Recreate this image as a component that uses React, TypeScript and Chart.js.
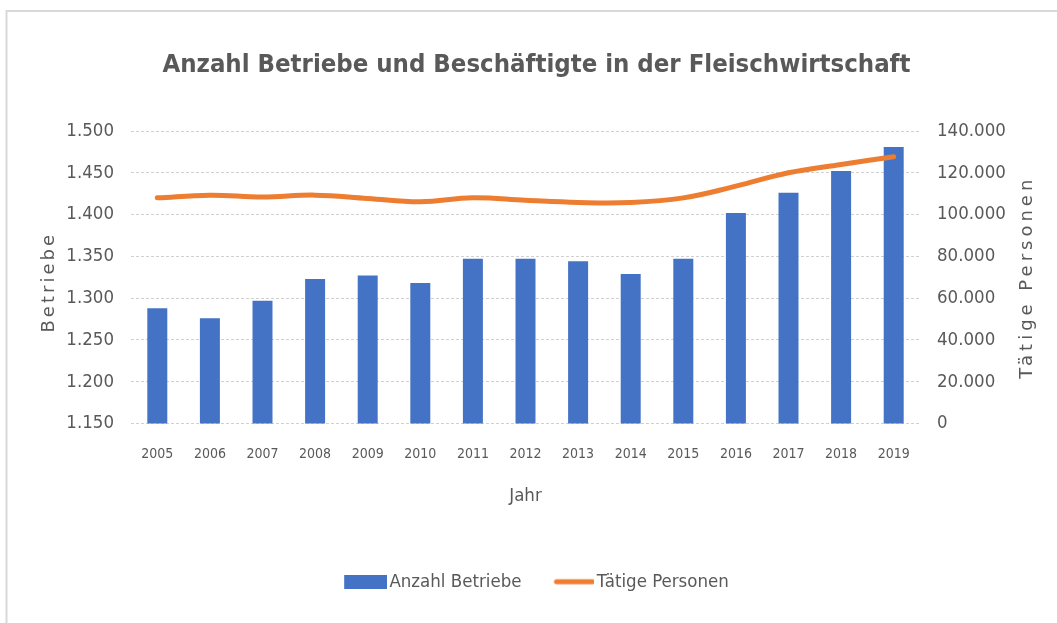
import { useEffect, useRef } from "react";
import { Chart, registerables } from "chart.js";

Chart.register(...registerables);

// ---- data ----
const years = ["2005", "2006", "2007", "2008", "2009", "2010", "2011", "2012", "2013", "2014", "2015", "2016", "2017", "2018", "2019"];
const anzahlBetriebe = [1288, 1276, 1297, 1323, 1327, 1318, 1347, 1347, 1344, 1329, 1347, 1402, 1426, 1452, 1481];
const taetigePersonen = [108000, 109300, 108400, 109300, 107700, 106100, 108000, 106800, 105800, 105800, 108000, 113600, 120000, 124000, 127700];
const leftAxisRange = [1150, 1500];
const leftAxisStep = 50;
const rightAxisRange = [0, 140000];
const rightAxisStep = 20000;

const titleText = "Anzahl Betriebe und Beschäftigte in der Fleischwirtschaft";
const xTitle = "Jahr";
const yLeftTitle = "Betriebe";
const yRightTitle = "Tätige Personen";
const seriesNames = ["Anzahl Betriebe", "Tätige Personen"];

const BLUE = "#4472C4";
const ORANGE = "#ED7D31";
const GREY = "#595959";
const GRID = "#d0d0d0";
const NARROW = "'DejaVu Sans Condensed', 'Liberation Sans Narrow', sans-serif";
const WIDE = "'DejaVu Sans', sans-serif";

function makeBarIcon() {
  const c = document.createElement("canvas");
  c.width = 50;
  c.height = 14;
  const ctx = c.getContext("2d")!;
  ctx.fillStyle = BLUE;
  ctx.fillRect(7, 0, 43, 14);
  return c;
}

function makeLineIcon() {
  const c = document.createElement("canvas");
  c.width = 50;
  c.height = 8;
  const ctx = c.getContext("2d")!;
  ctx.strokeStyle = ORANGE;
  ctx.lineWidth = 5;
  ctx.lineCap = "round";
  ctx.beginPath();
  ctx.moveTo(12, 4);
  ctx.lineTo(48, 4);
  ctx.stroke();
  return c;
}

const decorPlugin = {
  id: "decor",
  beforeDraw(chart: any) {
    const ctx = chart.ctx;
    ctx.save();
    ctx.fillStyle = "#ffffff";
    ctx.fillRect(0, 0, chart.width, chart.height);
    ctx.strokeStyle = "#d9d9d9";
    ctx.lineWidth = 2;
    ctx.beginPath();
    ctx.moveTo(6.5, chart.height);
    ctx.lineTo(6.5, 11);
    ctx.lineTo(chart.width, 11);
    ctx.stroke();
    ctx.restore();
  },
  afterDraw(chart: any) {
    const ctx = chart.ctx;
    const area = chart.chartArea;
    const cy = (area.top + area.bottom) / 2;
    ctx.save();
    ctx.fillStyle = GREY;
    ctx.font = "18px " + WIDE;
    ctx.textAlign = "center";
    ctx.textBaseline = "middle";
    // left axis title
    ctx.save();
    ctx.translate(49, cy + 5);
    ctx.rotate(-Math.PI / 2);
    (ctx as any).letterSpacing = "3px";
    ctx.fillText(yLeftTitle, 0, 0);
    ctx.restore();
    // right axis title
    ctx.save();
    ctx.translate(1027, cy);
    ctx.rotate(-Math.PI / 2);
    (ctx as any).letterSpacing = "4px";
    ctx.fillText(yRightTitle, 0, 0);
    ctx.restore();
    ctx.restore();
  },
};

export default function App() {
  const ref = useRef<HTMLCanvasElement | null>(null);

  useEffect(() => {
    document.body.style.margin = "0";
    document.body.style.overflow = "hidden";
    const canvas = ref.current;
    if (!canvas) return;
    const barIcon = makeBarIcon();
    const lineIcon = makeLineIcon();

    const chart = new Chart(canvas, {
      type: "bar",
      data: {
        labels: years,
        datasets: [
          {
            type: "line",
            label: seriesNames[1],
            data: taetigePersonen,
            yAxisID: "y2",
            borderColor: ORANGE,
            backgroundColor: ORANGE,
            borderWidth: 5,
            tension: 0.4,
            pointRadius: 0,
            borderCapStyle: "round",
            fill: false,
          } as any,
          {
            type: "bar",
            label: seriesNames[0],
            data: anzahlBetriebe,
            yAxisID: "y1",
            backgroundColor: BLUE,
            barPercentage: 0.38,
            categoryPercentage: 1,
          } as any,
        ],
      },
      plugins: [decorPlugin],
      options: {
        responsive: false,
        animation: false,
        devicePixelRatio: 1,
        layout: { padding: { left: 16, right: 0, top: 0, bottom: 22 } },
        plugins: {
          tooltip: { enabled: false },
          title: {
            display: true,
            text: titleText,
            color: GREY,
            font: { family: NARROW, size: 25.5, weight: "bold", lineHeight: 1.2 },
            padding: { top: 50, bottom: 50.4 },
          },
          legend: {
            display: true,
            position: "bottom",
            labels: {
              usePointStyle: true,
              pointStyleWidth: 36,
              padding: 30,
              color: GREY,
              font: { family: NARROW, size: 18.5 },
              generateLabels: (ch: any) => {
                const items = (Chart.defaults.plugins.legend.labels as any).generateLabels(ch);
                const bar = items.find((i: any) => i.datasetIndex === 1);
                const line = items.find((i: any) => i.datasetIndex === 0);
                bar.pointStyle = barIcon;
                line.pointStyle = lineIcon;
                return [bar, line];
              },
            },
          },
        },
        scales: {
          x: {
            offset: true,
            grid: { display: false },
            border: { display: false },
            ticks: { color: GREY, font: { family: NARROW, size: 14 }, padding: 14, maxRotation: 0 },
            title: {
              display: true,
              text: xTitle,
              color: GREY,
              font: { family: NARROW, size: 18.5, lineHeight: 1.2 },
              padding: { top: 0, bottom: 35 },
            },
            afterFit: (s: any) => {
              s.height = 119;
            },
          },
          y1: {
            position: "left",
            min: leftAxisRange[0],
            max: leftAxisRange[1],
            grid: { color: GRID, drawTicks: false, lineWidth: 1 },
            border: { display: false, dash: [3, 2] },
            ticks: {
              stepSize: leftAxisStep,
              color: GREY,
              font: { family: NARROW, size: 18.5 },
              padding: 17,
              callback: (v: any) => Number(v).toLocaleString("de-DE"),
            },
            afterFit: (s: any) => {
              s.width = 115;
            },
          },
          y2: {
            position: "right",
            min: rightAxisRange[0],
            max: rightAxisRange[1],
            grid: { display: false, drawTicks: false },
            border: { display: false },
            ticks: {
              stepSize: rightAxisStep,
              color: GREY,
              font: { family: NARROW, size: 18.5 },
              padding: 17,
              callback: (v: any) => Number(v).toLocaleString("de-DE"),
            },
            afterFit: (s: any) => {
              s.width = 137;
            },
          },
        },
      } as any,
    });

    return () => chart.destroy();
  }, []);

  return (
    <canvas
      ref={ref}
      width={1057}
      height={623}
      style={{ display: "block", width: "1057px", height: "623px" }}
    />
  );
}
